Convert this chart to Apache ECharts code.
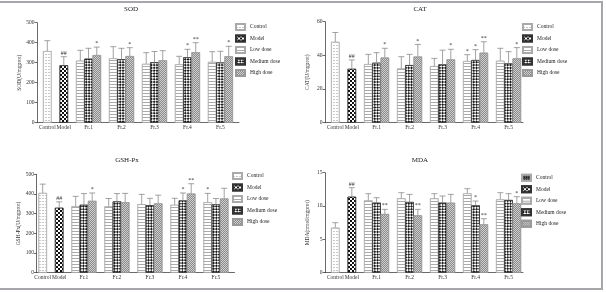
<!DOCTYPE html>
<html>
<head>
<meta charset="utf-8">
<script src="https://cdn.jsdelivr.net/npm/echarts@6/dist/echarts.min.js"></script>
<style>
  html, body { margin: 0; padding: 0; background: #fff; }
  #chart { position: absolute; left: 0; top: 0; width: 606px; height: 292px; }
  #frame { position: absolute; left: -2px; top: 1px; width: 605px; height: 289px; box-sizing: border-box;
           border: 2px solid #a6a6ad; pointer-events: none; }
</style>
</head>
<body>
<div id="chart"></div>
<div id="frame"></div>
<script>
const groups = ['Control', 'Model', 'Low dose', 'Medium dose', 'High dose'];
const fractions = ['Fr.1', 'Fr.2', 'Fr.3', 'Fr.4', 'Fr.5'];

// bar order: Control, Model, then Fr.1..Fr.5 x (low, medium, high dose)
const sodMean = [358, 287, 310, 320, 338, 322, 317, 333, 294, 302, 312, 292, 327, 352, 304, 301, 332];
const sodSd   = [52, 43, 52, 52, 40, 58, 55, 42, 56, 54, 48, 40, 40, 48, 51, 56, 50];
const sodSig  = ['', '##', '', '', '*', '', '', '*', '', '', '', '', '*', '**', '', '', '*'];

const catMean = [48, 32, 34.8, 35.6, 38.7, 32.2, 34.2, 39.3, 33.6, 34.6, 37.6, 36.6, 37.2, 41.6, 36.8, 35.2, 38.2];
const catSd   = [5.6, 5.3, 5.8, 6, 5.5, 7, 6.4, 7.2, 4.6, 8.5, 6, 3.8, 6.2, 6.5, 7.4, 7, 6.4];
const catSig  = ['', '##', '', '', '*', '', '', '*', '', '', '*', '*', '*', '**', '', '', '*'];

const gshMean = [405, 330, 338, 345, 365, 337, 362, 358, 348, 343, 352, 345, 367, 402, 358, 347, 377];
const gshSd   = [45, 30, 50, 57, 40, 40, 40, 45, 50, 35, 42, 33, 38, 50, 45, 30, 52];
const gshSig  = ['', '##', '', '', '*', '', '', '', '', '', '', '', '*', '**', '*', '', ''];

const mdaMean = [6.75, 11.4, 10.85, 10.5, 8.8, 11.15, 10.6, 8.6, 11.15, 10.5, 10.5, 11.9, 10.1, 7.25, 11.0, 10.9, 10.4];
const mdaSd   = [0.75, 1.35, 1.0, 0.75, 0.7, 0.85, 1.15, 0.9, 0.7, 1.0, 1.25, 0.7, 0.65, 0.85, 1.0, 0.95, 1.0];
const mdaSig  = ['', '##', '', '', '**', '', '', '**', '', '', '', '', '*', '**', '', '', '*'];

const serif = '"Liberation Serif", "DejaVu Serif", serif';

// layout of the four panels
const panels = [
    { title: 'SOD', yName: 'SOD(U/mgprot)', mean: sodMean, sd: sodSd, sig: sodSig, max: 500, step: 100,
      left: 37, top: 22.7, width: 202, height: 100, slots: 49, first: 2, titleX: 131, titleY: 6, legendX: 235, legendY: 23 },
    { title: 'CAT', yName: 'CAT(U/mgprot)', mean: catMean, sd: catSd, sig: catSig, max: 60, step: 20,
      left: 325, top: 21.7, width: 198, height: 101, slots: 48, first: 2, titleX: 420, titleY: 6, legendX: 522, legendY: 23 },
    { title: 'GSH-Px', yName: 'GSH-Px(U/mgprot)', mean: gshMean, sd: gshSd, sig: gshSig, max: 500, step: 100,
      left: 36.5, top: 174.3, width: 198, height: 98.4, slots: 48, first: 1, titleX: 127, titleY: 157, legendX: 232, legendY: 172 },
    { title: 'MDA', yName: 'MDA(nmol/mgprot)', mean: mdaMean, sd: mdaSd, sig: mdaSig, max: 15, step: 5,
      left: 325, top: 172.7, width: 198, height: 100, slots: 48, first: 2, titleX: 420, titleY: 157, legendX: 521, legendY: 173.7 },
];

// fill patterns, like the GraphPad hatches
const checker = [[2, 2], [0, 2, 2, 0]];
const barStyles = {
    'Control': { color: '#fff', borderColor: '#aaa', borderWidth: 0.6,
        decal: { symbol: 'rect', symbolSize: 1, color: '#c8c8c8', dashArrayX: [2, 1], dashArrayY: [1, 2] } },
    'Model': { color: '#fff', borderColor: '#333', borderWidth: 0.6,
        decal: { symbol: 'rect', symbolSize: 1, color: '#111', dashArrayX: checker, dashArrayY: [2, 0] } },
    'Low dose': { color: '#fff', borderColor: '#aaa', borderWidth: 0.6,
        decal: { symbol: 'rect', symbolSize: 1, color: '#aaa', dashArrayX: [1, 0], dashArrayY: [1, 2] } },
    'Medium dose': { color: '#fff', borderColor: '#333', borderWidth: 0.6,
        decal: { symbol: 'rect', symbolSize: 1, color: '#1a1a1a', dashArrayX: checker, dashArrayY: [2, 0], rotation: Math.PI / 4 } },
    'High dose': { color: '#d0d0d0', borderColor: '#999', borderWidth: 0.6,
        decal: { symbol: 'rect', symbolSize: 1, color: '#8a8a8a', dashArrayX: [[1, 1], [0, 1, 1, 0]], dashArrayY: [1, 0] } },
};

// which slot of the category axis each bar sits in
function slotOf(p, k) {
    if (k === 0) return p.first;
    if (k === 1) return p.first + 4;
    const j = k - 2;
    return p.first + 8 + 8 * Math.floor(j / 3) + 2 * (j % 3);
}
function groupOf(k) {
    return k < 2 ? k : 2 + (k - 2) % 3;
}

const chart = echarts.init(document.getElementById('chart'));

const option = {
    animation: false,
    backgroundColor: '#fff',
    title: [], legend: [], grid: [], xAxis: [], yAxis: [], series: [],
};

panels.forEach((p, pi) => {
    const slotNames = [];
    for (let i = 0; i < p.slots; i++) slotNames.push(String(i));
    const labelBySlot = {};
    labelBySlot[p.first] = 'Control';
    labelBySlot[p.first + 4] = 'Model';
    fractions.forEach((f, g) => { labelBySlot[p.first + 10 + 8 * g] = f; });

    option.title.push({
        text: p.title, left: p.titleX, top: p.titleY, textAlign: 'center', padding: 0,
        textStyle: { fontSize: 7, fontWeight: 'normal', fontFamily: serif, color: '#222' },
    });

    const legendData = groups.slice();
    if (pi === 3) {
        // the MDA key shows a dark swatch for Control
        legendData[0] = { name: 'Control', itemStyle: { color: '#555',
            decal: { symbol: 'rect', symbolSize: 1, color: '#111', dashArrayX: [1, 1], dashArrayY: [1, 1] } } };
    }
    option.legend.push({
        orient: 'vertical', left: p.legendX, top: p.legendY, padding: 0,
        icon: 'rect', itemWidth: 9, itemHeight: 6, itemGap: 3.5,
        textStyle: { fontSize: 5.5, lineHeight: 8, fontFamily: serif, color: '#222' },
        data: legendData,
    });

    option.grid.push({ left: p.left, top: p.top, width: p.width, height: p.height, outerBoundsMode: 'none' });

    option.xAxis.push({
        type: 'category', gridIndex: pi, data: slotNames,
        axisLine: { lineStyle: { color: '#444', width: 0.8 } },
        axisTick: { show: false },
        axisLabel: {
            interval: 0, margin: 2, fontSize: 5.5, fontFamily: serif, color: '#333',
            formatter: v => labelBySlot[v] || '',
        },
        splitLine: { show: false },
    });

    option.yAxis.push({
        type: 'value', gridIndex: pi, min: 0, max: p.max, interval: p.step,
        name: p.yName, nameLocation: 'middle', nameGap: 14,
        nameTextStyle: { fontSize: 5.5, fontFamily: serif, color: '#333' },
        axisLine: { show: true, lineStyle: { color: '#444', width: 0.8 } },
        axisTick: { show: true, length: 2.5, lineStyle: { color: '#444', width: 0.8 } },
        axisLabel: { fontSize: 5.5, margin: 2.5, fontFamily: serif, color: '#333' },
        splitLine: { show: false },
    });

    groups.forEach((name, gi) => {
        const data = new Array(p.slots).fill(null);
        p.mean.forEach((v, k) => { if (groupOf(k) === gi) data[slotOf(p, k)] = v; });
        option.series.push({
            type: 'bar', name, xAxisIndex: pi, yAxisIndex: pi,
            data, barWidth: 8.5, barGap: '-100%',
            itemStyle: barStyles[name],
        });
    });

    // error bars and significance marks
    const errData = p.mean.map((v, k) => [slotOf(p, k), v, p.sd[k]]);
    const sig = p.sig;
    option.series.push({
        type: 'custom', xAxisIndex: pi, yAxisIndex: pi, z: 5,
        data: errData,
        encode: { x: 0, y: 1 },
        renderItem: (params, api) => {
            const x = api.value(0), m = api.value(1), e = api.value(2);
            const base = api.coord([x, m]);
            const top = api.coord([x, m + e]);
            const lineStyle = { stroke: '#8a8a8a', lineWidth: 0.8 };
            const children = [
                { type: 'line', shape: { x1: base[0], y1: base[1], x2: top[0], y2: top[1] }, style: lineStyle },
                { type: 'line', shape: { x1: top[0] - 3, y1: top[1], x2: top[0] + 3, y2: top[1] }, style: lineStyle },
            ];
            const s = sig[params.dataIndex];
            if (s) {
                children.push({
                    type: 'text', x: top[0], y: top[1] - 0.5,
                    style: { text: s, align: 'center', verticalAlign: 'bottom', font: '6px ' + serif, fill: '#333' },
                });
            }
            return { type: 'group', children };
        },
    });
});

chart.setOption(option);
</script>
</body>
</html>
